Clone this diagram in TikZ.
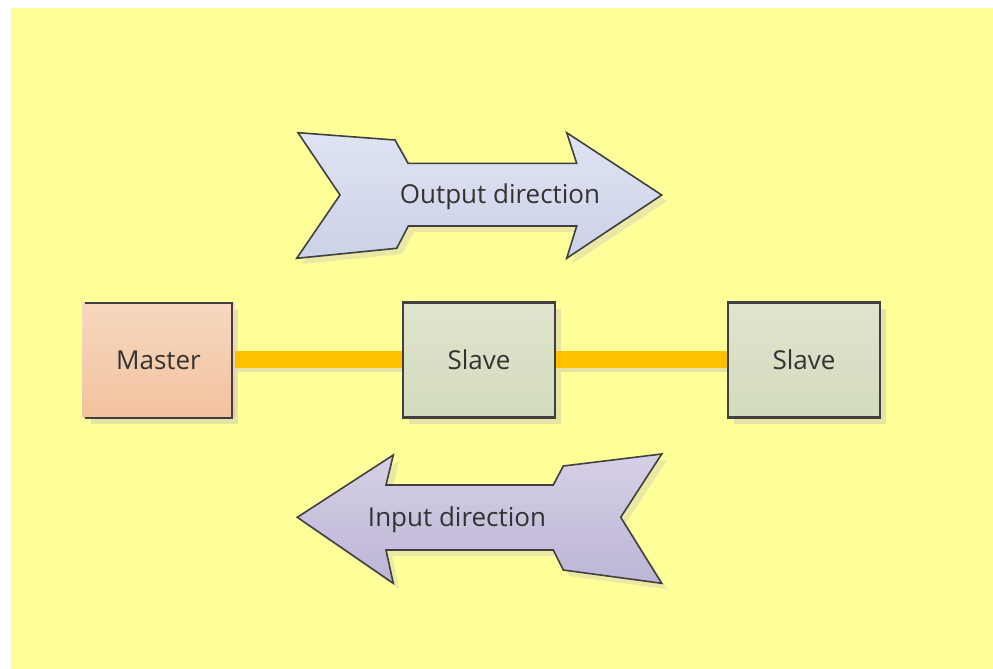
\documentclass[tikz,border=0pt]{standalone}
\usepackage{fontspec}
\setmainfont{Open Sans}
\definecolor{bgyellow}{HTML}{FFFF99}
\definecolor{shadowc}{HTML}{E5E3A6}
\definecolor{edgec}{HTML}{404040}
\definecolor{outtop}{HTML}{DFE4F3}
\definecolor{outbot}{HTML}{CBD1E8}
\definecolor{intop}{HTML}{D6D0E6}
\definecolor{inbot}{HTML}{BDB5D6}
\definecolor{mtop}{HTML}{F6D8BF}
\definecolor{mbot}{HTML}{F2C29E}
\definecolor{stop}{HTML}{E0E4CE}
\definecolor{sbot}{HTML}{D3DBBD}
\definecolor{busc}{HTML}{FFC000}
\tikzset{
  box/.style={draw=edgec, line width=2.2pt, minimum width=152pt, minimum height=115pt, inner sep=0pt, font=\fontsize{26}{30}\selectfont, text=black!80},
  slavebox/.style={box, top color=stop, bottom color=sbot},
  masterbox/.style={box, draw=none, top color=mtop, bottom color=mbot},
  arrowout/.style={draw=edgec, line width=1.6pt, line join=miter, top color=outtop, bottom color=outbot},
  arrowin/.style={draw=edgec, line width=1.6pt, line join=miter, top color=intop, bottom color=inbot},
  shade/.style={fill=shadowc},
  bus/.style={draw=busc, line width=17pt},
  lbl/.style={font=\fontsize{26}{30}\selectfont, text=black!80, inner sep=0pt}
}
\begin{document}
\begin{tikzpicture}[x=1pt, y=-1pt]
\useasboundingbox (0,0) rectangle (993,669);
\fill[white] (0,0) rectangle (993,669);
\fill[bgyellow] (11,8) rectangle (993,669);
% shadows of boxes and bus
\fill[shade] (91,309) rectangle (238,424);
\fill[shade] (409,309) rectangle (561,424);
\fill[shade] (734,309) rectangle (886,424);
\fill[shadowc] (232,364) rectangle (727,372);
% bus
\coordinate (b0) at (232,359);
\coordinate (b1) at (728,359);
\draw[bus] (b0) -- (b1);
% boxes
\node[masterbox] (master) at (158.5,360) {Master};
\draw[edgec, line width=2.2pt] (85,302.7) -- (232,302.7) -- (232,417.7) -- (85,417.7);
\node[slavebox] (slave1) at (479,360) {Slave};
\node[slavebox] (slave2) at (804,360) {Slave};
% output arrow shadow
\fill[shadowc, opacity=0.8] (303,138) -- (401,146) -- (414,169) -- (582,169) -- (572,138) -- (667,201) -- (572,264) -- (582,232) -- (414,232) -- (402,254) -- (302,264) -- (346,201) -- cycle;
\draw[arrowout] (298,132.7) -- (395,140) -- (408,163.3) -- (576.7,163.3) -- (566.7,132.7) -- (661.7,195) -- (566.7,258.3) -- (576.7,226) -- (408.3,226) -- (396.7,248.3) -- (296.7,258.3) -- (340,195) -- cycle;
\node[lbl] (outlbl) at (500,197) {Output direction};
% input arrow shadow
\fill[shadowc, opacity=0.8] (303,523) -- (399,461) -- (392,491) -- (559,491) -- (569,472) -- (667,460) -- (626,523) -- (667,589) -- (569,576) -- (559,556) -- (392,556) -- (399,589) -- cycle;
\draw[arrowin] (297.3,517.3) -- (393.3,455) -- (386,485) -- (553.3,485) -- (563.3,466) -- (661.7,454) -- (620.7,517.3) -- (661.7,583.3) -- (563.3,570) -- (553.3,550) -- (386,550) -- (393.3,583.3) -- cycle;
\node[lbl] (inlbl) at (457,520) {Input direction};
\end{tikzpicture}
\end{document}
